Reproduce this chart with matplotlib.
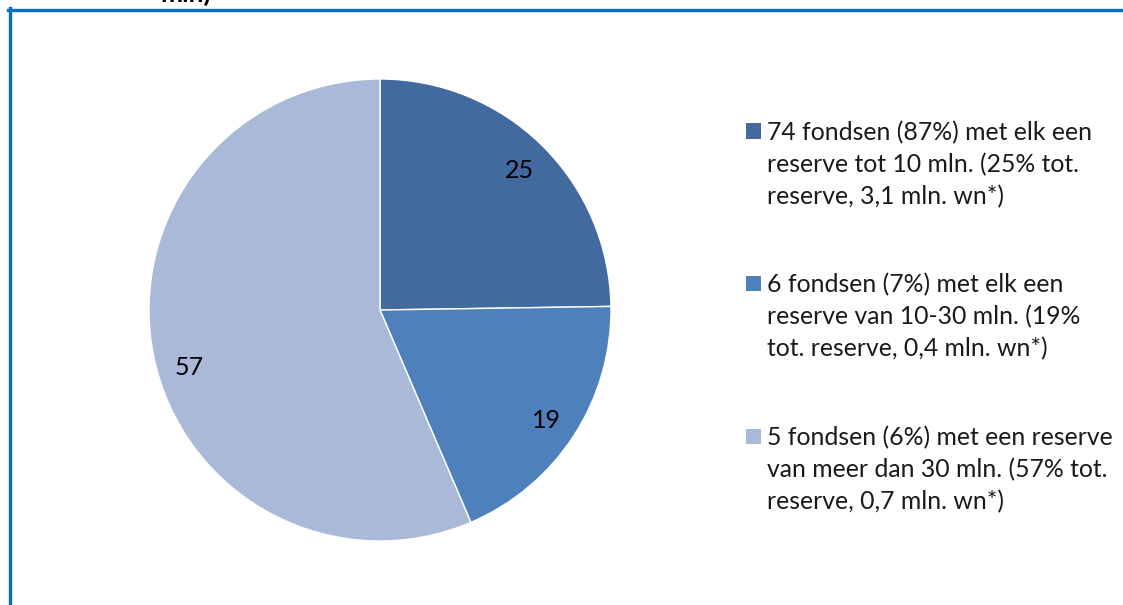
import matplotlib
matplotlib.use("Agg")
import numpy as np
import matplotlib.pyplot as plt
from matplotlib.lines import Line2D
from matplotlib.patches import Rectangle

plt.rcParams['font.family'] = ['Lato', 'DejaVu Sans']

values = [25, 19, 57]
legend_labels = [
    "74 fondsen (87%) met elk een\nreserve tot 10 mln. (25% tot.\nreserve, 3,1 mln. wn*)",
    "6 fondsen (7%) met elk een\nreserve van 10-30 mln. (19%\ntot. reserve, 0,4 mln. wn*)",
    "5 fondsen (6%) met een reserve\nvan meer dan 30 mln. (57% tot.\nreserve, 0,7 mln. wn*)",
]
colors = ['#426A9F', '#4E80BC', '#AAB9D7']
title_tail = "mln)"

W, H = 1123, 605
fig = plt.figure(figsize=(W / 100, H / 100), dpi=100)

# pie axes: center (380,310), radius 231 px
cx, cy, r = 380, 310, 231
ax = fig.add_axes([(cx - r) / W, (H - cy - r) / H, 2 * r / W, 2 * r / H])
wedges, texts = ax.pie(values, labels=[str(v) for v in values], colors=colors,
                       startangle=90, counterclock=False, labeldistance=0.86,
                       wedgeprops=dict(edgecolor='white', linewidth=1),
                       textprops=dict(fontsize=18, color='black'))
for t in texts:
    t.set_ha('center')
    t.set_va('center_baseline')
# Excel "best fit" nudges the largest label slightly lower along the arc
w_last = wedges[-1]
ang = np.deg2rad((w_last.theta1 + w_last.theta2) / 2 + 4.5)
texts[-1].set_position((0.86 * np.cos(ang), 0.86 * np.sin(ang)))
ax.set_aspect('equal')
ax.set_xlim(-1, 1)
ax.set_ylim(-1, 1)
ax.axis('off')

# manual legend
sq_x, sq = 746, 15
txt_x = 767
first_y = [131, 283, 436]
for w, lab, y in zip(wedges, legend_labels, first_y):
    fig.patches.append(Rectangle((sq_x / W, (H - y - sq / 2) / H), sq / W, sq / H,
                                 transform=fig.transFigure, facecolor=w.get_facecolor(),
                                 edgecolor='none'))
    fig.text(txt_x / W, (H - y + 10) / H, lab, fontsize=17.8, color='#1a1a1a',
             ha='left', va='top', linespacing=1.46)

# clipped title fragment at top
fig.text(160 / W, (H - 2) / H, title_tail, fontsize=19, fontweight='bold',
         ha='left', va='baseline', color='black', zorder=1)

# blue frame
blue = '#0070C0'
fig.add_artist(Line2D([8 / W, 1.0], [(H - 9.5) / H, (H - 9.5) / H], color=blue,
                      linewidth=2.4, transform=fig.transFigure, zorder=5))
fig.add_artist(Line2D([9.5 / W, 9.5 / W], [0, (H - 8) / H], color=blue,
                      linewidth=2.4, transform=fig.transFigure, zorder=5))

fig.savefig('out.png', dpi=100)
